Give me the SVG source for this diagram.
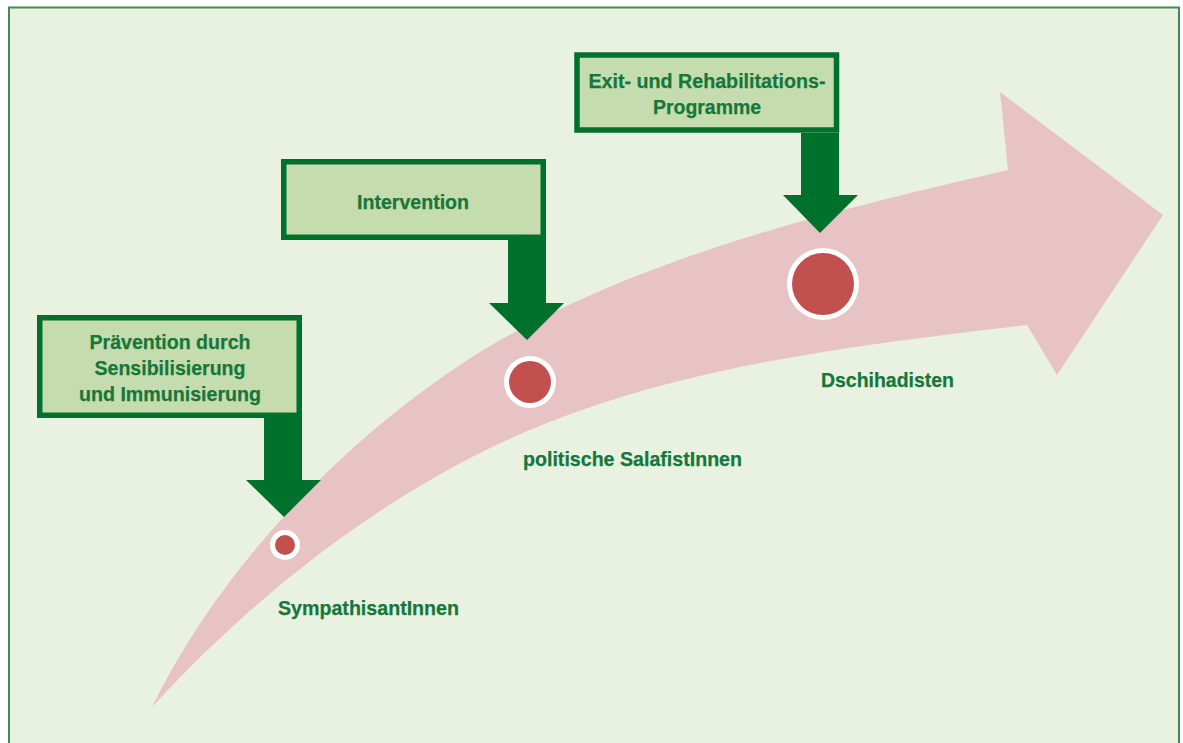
<svg xmlns="http://www.w3.org/2000/svg" width="1183" height="743" viewBox="0 0 1183 743">
  <style>
    .box { fill: #c5dcae; stroke: #00702d; stroke-width: 5.5; }
    .pointer { fill: #00702d; }
    .label, .stage { font-family: "Liberation Sans", Arial, sans-serif; font-weight: bold; font-size: 21px; fill: #15773a; stroke: #15773a; stroke-width: 0.25; }
    .label { text-anchor: middle; }
    .ring { fill: #ffffff; }
    .dot { fill: #c1504e; }
  </style>
  <defs>
    <filter id="soft" x="-5%" y="-5%" width="110%" height="110%">
      <feGaussianBlur stdDeviation="0.7"/>
    </filter>
  </defs>

  <!-- page and frame -->
  <rect x="0" y="0" width="1183" height="743" fill="#ffffff"/>
  <rect x="9" y="7.5" width="1170" height="745" fill="#e9f1e1" stroke="#3f8d55" stroke-width="2"/>

  <!-- big curved progression arrow -->
  <g id="progression-arrow">
    <path filter="url(#soft)" fill="#e8c3c6"
          d="M152,707 C218,572 340,440 480,352 C640,256 827,212 1008,170 L1000,92 L1163,215 L1057,375 L1027,325 C842,347 647,369 480,453 C357,515 246,605 152,707 Z"/>
  </g>

  <!-- stage markers -->
  <g id="stage-sympathisanten">
    <circle class="ring" cx="285" cy="545" r="15"/>
    <circle class="dot" cx="285" cy="545" r="10"/>
    <text class="stage" x="278" y="615" textLength="181" lengthAdjust="spacingAndGlyphs">SympathisantInnen</text>
  </g>
  <g id="stage-salafisten">
    <circle class="ring" cx="530" cy="382" r="26"/>
    <circle class="dot" cx="530" cy="382" r="21"/>
    <text class="stage" x="523" y="466" textLength="219" lengthAdjust="spacingAndGlyphs">politische SalafistInnen</text>
  </g>
  <g id="stage-dschihadisten">
    <circle class="ring" cx="823" cy="284" r="36"/>
    <circle class="dot" cx="823" cy="284" r="31"/>
    <text class="stage" x="821" y="387" textLength="133" lengthAdjust="spacingAndGlyphs">Dschihadisten</text>
  </g>

  <!-- measure boxes -->
  <g id="box-praevention">
    <rect class="box" x="39.75" y="317.75" width="259.5" height="97.5"/>
    <text class="label" x="170" y="349" textLength="161" lengthAdjust="spacingAndGlyphs">Prävention durch</text>
    <text class="label" x="170" y="375" textLength="151" lengthAdjust="spacingAndGlyphs">Sensibilisierung</text>
    <text class="label" x="170" y="401" textLength="182" lengthAdjust="spacingAndGlyphs">und Immunisierung</text>
  </g>
  <g id="box-intervention">
    <rect class="box" x="283.75" y="161.75" width="259.5" height="75.5"/>
    <text class="label" x="413" y="209" textLength="112" lengthAdjust="spacingAndGlyphs">Intervention</text>
  </g>
  <g id="box-exit">
    <rect class="box" x="577" y="55" width="259.5" height="75"/>
    <text class="label" x="707" y="88" textLength="237" lengthAdjust="spacingAndGlyphs">Exit- und Rehabilitations-</text>
    <text class="label" x="707" y="114" textLength="108" lengthAdjust="spacingAndGlyphs">Programme</text>
  </g>

  <!-- pointers from the boxes down onto the stages -->
  <g id="connectors">
    <polygon class="pointer" points="264,418 302,418 302,480 321,480 284,517 246,480 264,480"/>
    <polygon class="pointer" points="508,240 546,240 546,303 564,303 527,340 489,303 508,303"/>
    <polygon class="pointer" points="801,133 839,133 839,195 858,195 820,233 783,195 801,195"/>
  </g>
</svg>
